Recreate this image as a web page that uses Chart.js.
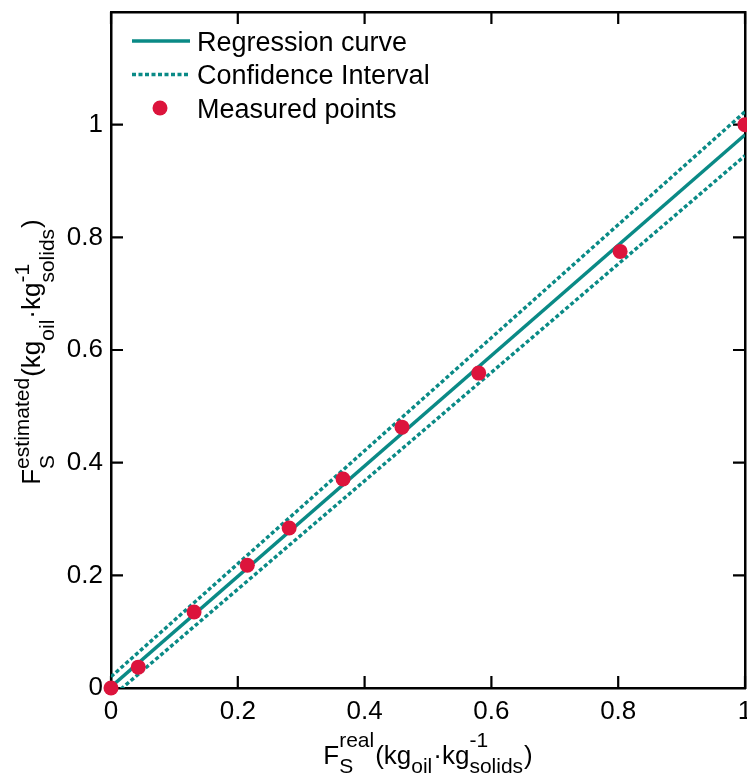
<!DOCTYPE html>
<html lang="en">
<head>
<meta charset="UTF-8" />
<title>Estimated vs real F_S</title>
<script src="https://cdn.jsdelivr.net/npm/chart.js"></script>
<style>
  body { margin: 0; background: #fff; }
  .wrap { position: relative; width: 747px; height: 775px; }
</style>
</head>
<body>
<div class="wrap"><canvas id="fsChart"></canvas></div>
<script>
// measured points
const measuredX = [0, 0.043, 0.131, 0.215, 0.281, 0.366, 0.459, 0.580, 0.803, 1.0];
const measuredY = [0, 0.037, 0.135, 0.218, 0.284, 0.371, 0.463, 0.559, 0.775, 1.0];

// regression line and confidence band end points
const fitX = [0, 1];
const regressionY = [0.002, 0.982];
const upperY = [0.020, 1.023];
const lowerY = [-0.017, 0.945];

const tickValues = [0, 0.2, 0.4, 0.6, 0.8, 1];
const tickLabels = ['0', '0.2', '0.4', '0.6', '0.8', '1'];
const legendLabels = ['Regression curve', 'Confidence Interval', 'Measured points'];

const TEAL = '#0a8a86';
const RED = '#dc143c';
const FONT = '"Liberation Sans", Arial, sans-serif';

const toPts = (xs, ys) => xs.map((x, i) => ({ x: x, y: ys[i] }));

// rich axis titles: m = normal text, b = subscript, p = superscript
const xTitle = [{ m: 'F' }, { b: 'S', p: 'real' }, { m: '(kg' }, { b: 'oil' }, { m: '\u00b7kg' }, { b: 'solids', p: '-1' }, { m: ')' }];
const yTitle = [{ m: 'F' }, { b: 'S', p: 'estimated' }, { m: '(kg' }, { b: 'oil' }, { m: '\u00b7kg' }, { b: 'solids', p: '-1' }, { m: ')' }];

function drawRich(ctx, segs, cx, cy, vertical, supUp, subDown) {
  const big = '26px ' + FONT, small = '21px ' + FONT;
  const widths = segs.map(s => {
    if (s.m) { ctx.font = big; return ctx.measureText(s.m).width; }
    ctx.font = small;
    return Math.max(s.b ? ctx.measureText(s.b).width : 0, s.p ? ctx.measureText(s.p).width : 0) + 1;
  });
  const total = widths.reduce((a, b) => a + b, 0);
  ctx.save();
  ctx.translate(cx, cy);
  if (vertical) ctx.rotate(-Math.PI / 2);
  ctx.fillStyle = '#000';
  ctx.textAlign = 'left';
  ctx.textBaseline = 'alphabetic';
  let x = -total / 2;
  segs.forEach((s, i) => {
    if (s.m) {
      ctx.font = big;
      ctx.fillText(s.m, x, 0);
    } else {
      ctx.font = small;
      if (s.p) ctx.fillText(s.p, x, -supUp);
      if (s.b) ctx.fillText(s.b, x, subDown);
    }
    x += widths[i];
  });
  ctx.restore();
}

const inwardTicks = {
  id: 'inwardTicks',
  beforeDatasetsDraw(chart) {
    const { ctx, chartArea: a, scales } = chart;
    const len = 12;
    ctx.save();
    ctx.strokeStyle = '#000';
    ctx.lineWidth = 2.2;
    ctx.beginPath();
    tickValues.forEach(v => {
      const px = scales.x.getPixelForValue(v);
      ctx.moveTo(px, a.bottom); ctx.lineTo(px, a.bottom - len);
      ctx.moveTo(px, a.top); ctx.lineTo(px, a.top + len);
      const py = scales.y.getPixelForValue(v);
      ctx.moveTo(a.left, py); ctx.lineTo(a.left + len, py);
      ctx.moveTo(a.right, py); ctx.lineTo(a.right - len, py);
    });
    ctx.stroke();
    ctx.restore();
  }
};

const extras = {
  id: 'extras',
  afterDraw(chart) {
    const { ctx, chartArea: a } = chart;
    // legend
    const ds = chart.data.datasets;
    const rows = [41, 74.5, 108];
    ctx.save();
    ctx.font = '27px ' + FONT;
    ctx.fillStyle = '#000';
    ctx.textBaseline = 'alphabetic';
    [ds[1], ds[2], ds[0]].forEach((d, i) => {
      const y = rows[i];
      if (i < 2) {
        ctx.strokeStyle = d.borderColor;
        ctx.lineWidth = d.borderWidth;
        ctx.setLineDash(d.borderDash || []);
        ctx.beginPath();
        ctx.moveTo(132, y); ctx.lineTo(190, y);
        ctx.stroke();
        ctx.setLineDash([]);
      } else {
        ctx.fillStyle = d.backgroundColor;
        ctx.beginPath();
        ctx.arc(160, y, d.pointRadius, 0, Math.PI * 2);
        ctx.fill();
        ctx.fillStyle = '#000';
      }
      ctx.fillText(legendLabels[i], 197, y + 9.5);
    });
    ctx.restore();
    // axis titles
    drawRich(ctx, xTitle, (a.left + a.right) / 2, 764, false, 17, 9);
    drawRich(ctx, yTitle, 40, 352, true, 11, 14);
  }
};

const fixTicks = scale => { scale.ticks = tickValues.map(v => ({ value: v })); };
const noPad = s => { s.paddingTop = 0; s.paddingBottom = 0; s.paddingLeft = 0; s.paddingRight = 0; };

new Chart(document.getElementById('fsChart'), {
  type: 'scatter',
  data: {
    datasets: [
      {
        label: 'Measured points',
        data: toPts(measuredX, measuredY),
        pointRadius: 7.5,
        pointBackgroundColor: RED,
        backgroundColor: RED,
        pointBorderWidth: 0,
        showLine: false,
        clip: false
      },
      {
        label: 'Regression curve',
        data: toPts(fitX, regressionY),
        showLine: true,
        borderColor: TEAL,
        borderWidth: 3.4,
        pointRadius: 0,
        clip: 0
      },
      {
        label: 'Confidence Interval',
        data: toPts(fitX, upperY),
        showLine: true,
        borderColor: TEAL,
        borderWidth: 3.4,
        borderDash: [4, 2.5],
        pointRadius: 0,
        clip: 0
      },
      {
        label: 'Confidence Interval (lower)',
        data: toPts(fitX, lowerY),
        showLine: true,
        borderColor: TEAL,
        borderWidth: 3.4,
        borderDash: [4, 2.5],
        pointRadius: 0,
        clip: 0
      }
    ]
  },
  options: {
    responsive: true,
    maintainAspectRatio: false,
    animation: false,
    events: [],
    layout: { padding: 0, autoPadding: false },
    plugins: { legend: { display: false }, tooltip: { enabled: false } },
    scales: {
      x: {
        type: 'linear', position: 'bottom', min: 0, max: 1,
        afterBuildTicks: fixTicks,
        afterFit: s => { s.height = 87; noPad(s); },
        grid: { display: false, drawTicks: false },
        border: { display: true, color: '#000', width: 2.5 },
        ticks: {
          autoSkip: false, maxRotation: 0, padding: 8, color: '#000',
          font: { family: FONT, size: 26 },
          callback: (v, i) => tickLabels[i]
        }
      },
      y: {
        type: 'linear', position: 'left', min: 0, max: 1.2,
        afterBuildTicks: fixTicks,
        afterFit: s => { s.width = 111; noPad(s); },
        grid: { display: false, drawTicks: false },
        border: { display: true, color: '#000', width: 2.5 },
        ticks: {
          autoSkip: false, padding: 8, color: '#000',
          font: { family: FONT, size: 26 },
          callback: (v, i) => tickLabels[i]
        }
      },
      xTop: {
        type: 'linear', position: 'top', min: 0, max: 1,
        afterFit: s => { s.height = 12; noPad(s); },
        grid: { display: false, drawTicks: false },
        border: { display: true, color: '#000', width: 2.5 },
        ticks: { display: false }
      },
      yRight: {
        type: 'linear', position: 'right', min: 0, max: 1.2,
        afterFit: s => { s.width = 2; noPad(s); },
        grid: { display: false, drawTicks: false },
        border: { display: true, color: '#000', width: 2.5 },
        ticks: { display: false }
      }
    }
  },
  plugins: [inwardTicks, extras]
});
</script>
</body>
</html>
